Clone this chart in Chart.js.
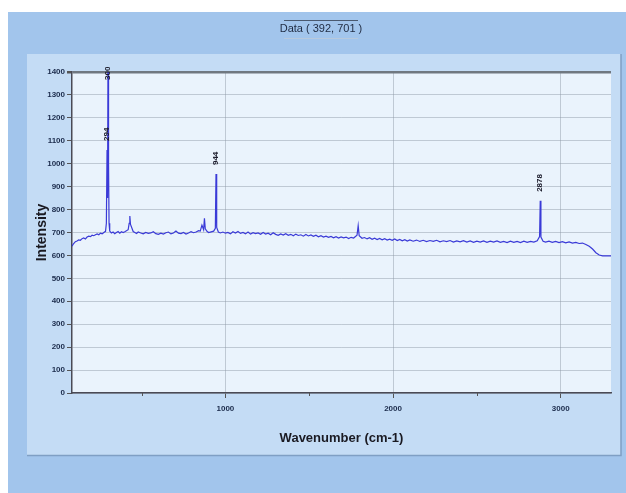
<!DOCTYPE html>
<html>
<head>
<meta charset="utf-8">
<script src="https://cdn.jsdelivr.net/npm/chart.js@4/dist/chart.umd.min.js"></script>
<style>
  body { margin: 0; background: #fff; }
  #wrap { width: 626px; height: 493px; }
</style>
</head>
<body>
<div id="wrap"><canvas id="chartSpectrum" width="626" height="493"></canvas></div>
<script>
// spectrum
var wavenumbers = [
  85, 95, 105, 115, 125, 135, 145, 155, 165, 175, 185, 195, 205, 215, 225, 235, 245, 255, 265, 275,
  285, 290, 294, 297, 300, 303, 306, 310, 320, 330, 340, 350, 360, 370, 380, 390, 400, 420, 426, 430,
  434, 450, 460, 470, 480, 495, 510, 525, 540, 555, 570, 585, 600, 615, 630, 645, 660, 675, 690, 705,
  720, 735, 750, 765, 780, 795, 810, 825, 840, 850, 860, 870, 875, 880, 890, 900, 915, 930, 940, 944,
  948, 958, 970, 985, 1000, 1015, 1030, 1045, 1060, 1075, 1090, 1105, 1120, 1135, 1150, 1165, 1180, 1195, 1210, 1225,
  1240, 1255, 1270, 1285, 1300, 1315, 1330, 1345, 1360, 1375, 1390, 1405, 1420, 1435, 1450, 1465, 1480, 1495, 1510, 1525,
  1540, 1555, 1570, 1585, 1600, 1615, 1630, 1645, 1660, 1675, 1690, 1705, 1720, 1735, 1750, 1765, 1785, 1792, 1798, 1815,
  1830, 1845, 1860, 1875, 1890, 1905, 1920, 1935, 1950, 1965, 1980, 1995, 2010, 2025, 2040, 2055, 2070, 2085, 2100, 2120,
  2140, 2160, 2180, 2200, 2220, 2240, 2260, 2280, 2300, 2320, 2340, 2360, 2380, 2400, 2420, 2440, 2460, 2480, 2500, 2520,
  2540, 2560, 2580, 2600, 2620, 2640, 2660, 2680, 2700, 2720, 2740, 2760, 2780, 2800, 2820, 2840, 2860, 2874, 2878, 2882,
  2895, 2910, 2930, 2950, 2970, 2990, 3010, 3030, 3050, 3070, 3090, 3110, 3130, 3150, 3170, 3190, 3210, 3230, 3250, 3270,
  3300
];
var intensity = [
  640, 652, 660, 663, 668, 666, 673, 676, 672, 680, 684, 682, 688, 686, 690, 694, 690, 697, 694, 700,
  705, 740, 1060, 850, 1520, 1000, 740, 706, 698, 702, 695, 700, 704, 697, 703, 700, 703, 712, 740, 772,
  735, 704, 700, 696, 702, 698, 694, 700, 696, 698, 703, 695, 692, 697, 693, 699, 702, 694, 698, 706,
  697, 695, 700, 693, 698, 704, 699, 702, 708, 706, 732, 712, 762, 716, 705, 700, 703, 706, 718, 955,
  722, 702, 698, 702, 697, 700, 694, 703, 698, 704, 696, 700, 694, 702, 693, 699, 695, 698, 692, 700,
  693, 697, 690, 699, 692, 688, 694, 689, 695, 688, 692, 686, 693, 687, 690, 684, 691, 685, 689, 683,
  688, 681, 686, 680, 684, 679, 683, 677, 682, 676, 681, 677, 680, 674, 679, 676, 688, 730, 686, 675,
  678, 672, 677, 670, 675, 669, 674, 668, 673, 667, 671, 666, 672, 665, 670, 664, 669, 663, 668, 662,
  667, 661, 666, 660, 665, 661, 666, 659, 664, 660, 665, 658, 663, 659, 664, 658, 663, 657, 662, 658,
  663, 657, 662, 658, 663, 657, 661, 656, 662, 657, 661, 656, 662, 657, 661, 658, 664, 682, 838, 680,
  662, 658, 662, 657, 661, 656, 660, 655, 659, 654, 657, 652, 654, 648, 640, 628, 612, 602, 598, 598,
  598
];
var peakPositions = [300, 294, 944, 2878];
var peakHeights = [1520, 1060, 955, 838];
var yTicks = [0, 100, 200, 300, 400, 500, 600, 700, 800, 900, 1000, 1100, 1200, 1300, 1400];
var xTicks = [1000, 2000, 3000];

var tickFont = { family: "'Liberation Sans Narrow', 'Liberation Sans', sans-serif", size: 8, weight: 'bold' };

var panelBackground = {
  id: 'panelBackground',
  beforeDraw: function(chart) {
    var ctx = chart.ctx, a = chart.chartArea;
    ctx.save();
    ctx.fillStyle = '#ffffff';
    ctx.fillRect(0, 0, chart.width, chart.height);
    ctx.fillStyle = '#a2c5ec';
    ctx.fillRect(8, 12, chart.width - 8, chart.height - 12);
    ctx.fillStyle = '#c4dcf5';
    ctx.fillRect(27, 54, 594, 401);
    ctx.strokeStyle = '#7f9fc4';
    ctx.lineWidth = 1.5;
    ctx.beginPath();
    ctx.moveTo(27, 455.5); ctx.lineTo(621, 455.5); ctx.lineTo(621, 54);
    ctx.stroke();
    ctx.fillStyle = '#eaf3fc';
    ctx.fillRect(a.left, a.top, a.right - a.left, a.bottom - a.top);
    // title box
    ctx.strokeStyle = '#4a5a70';
    ctx.lineWidth = 1;
    ctx.beginPath();
    ctx.moveTo(284, 20.5); ctx.lineTo(358, 20.5);
    ctx.stroke();
    ctx.strokeStyle = '#b8c9dc';
    ctx.beginPath();
    ctx.moveTo(284, 38.5); ctx.lineTo(358, 38.5);
    ctx.stroke();
    ctx.fillStyle = '#1e2a40';
    ctx.font = "11px 'Liberation Sans Narrow', 'Liberation Sans', sans-serif";
    ctx.textAlign = 'center';
    ctx.textBaseline = 'middle';
    ctx.fillText('Data ( 392, 701 )', 321, 29);
    ctx.restore();
  }
};

var peakLabels = {
  id: 'peakLabels',
  afterDatasetsDraw: function(chart) {
    var ctx = chart.ctx, a = chart.chartArea;
    var xs = chart.scales.x, ys = chart.scales.y;
    ctx.save();
    // minor ticks
    ctx.strokeStyle = '#555';
    ctx.lineWidth = 1;
    [500, 1500, 2500].forEach(function(v) {
      var px = Math.round(xs.getPixelForValue(v)) + 0.5;
      ctx.beginPath(); ctx.moveTo(px, a.bottom); ctx.lineTo(px, a.bottom + 3); ctx.stroke();
    });
    ctx.fillStyle = '#1a1a2a';
    ctx.font = "bold 8px 'Liberation Sans Narrow', 'Liberation Sans', sans-serif";
    ctx.textAlign = 'left';
    ctx.textBaseline = 'middle';
    peakPositions.forEach(function(p, i) {
      var px = xs.getPixelForValue(p);
      var py = Math.max(ys.getPixelForValue(peakHeights[i]) - 9, a.top + 8);
      ctx.save();
      ctx.translate(px, py);
      ctx.rotate(-Math.PI / 2);
      ctx.fillText(String(p), 0, 0);
      ctx.restore();
    });
    ctx.restore();
  }
};

var ctx = document.getElementById('chartSpectrum').getContext('2d');
var chartSpectrum = new Chart(ctx, {
  type: 'line',
  data: {
    datasets: [{
      label: 'Data',
      data: wavenumbers.map(function(w, i) { return { x: w, y: intensity[i] }; }),
      borderColor: 'rgb(58, 58, 215)',
      borderWidth: 1.2,
      pointRadius: 0,
      tension: 0,
      fill: false
    }]
  },
  options: {
    responsive: false,
    animation: false,
    layout: { padding: { left: 30, right: 15, top: 72, bottom: 43 } },
    plugins: {
      legend: { display: false },
      tooltip: { enabled: false }
    },
    scales: {
      x: {
        type: 'linear',
        min: 85,
        max: 3300,
        afterFit: function(s) { s.height = 57; },
        afterBuildTicks: function(s) { s.ticks = xTicks.map(function(v) { return { value: v }; }); },
        ticks: { font: tickFont, color: '#1b2b4b', padding: 6, maxRotation: 0,
          callback: function(v) { return String(v); } },
        grid: { color: 'rgba(140,150,165,0.45)', tickLength: 5, tickColor: '#555' },
        border: { color: '#4a4a55', width: 1.5 },
        title: {
          display: true,
          text: 'Wavenumber (cm-1)',
          color: '#1a1a22',
          font: { family: "'Liberation Sans Narrow', 'Liberation Sans', sans-serif", size: 13, weight: 'bold' }
        }
      },
      y: {
        min: 0,
        max: 1400,
        afterFit: function(s) { s.width = 42; },
        afterBuildTicks: function(s) { s.ticks = yTicks.map(function(v) { return { value: v }; }); },
        ticks: { font: tickFont, color: '#1b2b4b', padding: 2,
          callback: function(v) { return String(v); } },
        grid: {
          color: function(c) { return c.tick && c.tick.value === 1400 ? '#707880' : 'rgba(140,150,165,0.45)'; },
          lineWidth: function(c) { return c.tick && c.tick.value === 1400 ? 2.5 : 1; },
          tickLength: 5,
          tickColor: '#555'
        },
        border: { color: '#4a4a55', width: 1.5 },
        title: {
          display: true,
          text: 'Intensity',
          color: '#1a1a22',
          font: { family: "'Liberation Sans', sans-serif", size: 14, weight: 'bold' }
        }
      }
    }
  },
  plugins: [panelBackground, peakLabels]
});
</script>
</body>
</html>
